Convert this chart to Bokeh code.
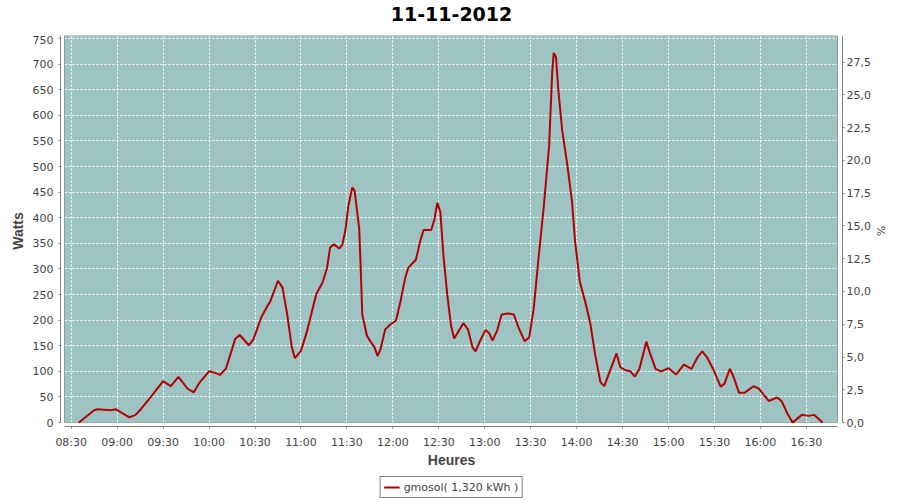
import pandas as pd
from bokeh.plotting import figure
from bokeh.layouts import column
from bokeh.models import (Range1d, LinearAxis, FixedTicker, BoxAnnotation,
                          Legend, LegendItem, Label)
from bokeh.embed import file_html
from bokeh.resources import INLINE

# ---------------- data ----------------
title_text = "11-11-2012"
x_label = "Heures"
y_label = "Watts"
y2_label = "%"
series_name = "gmosol( 1,320 kWh )"

times = [
    "08:35", "08:45", "08:47", "08:56", "08:59", "09:03", "09:08", "09:12", "09:16", "09:22",
    "09:30", "09:35", "09:40", "09:46", "09:50", "09:54", "10:00", "10:04", "10:07", "10:11",
    "10:14", "10:17", "10:20", "10:26", "10:29", "10:34", "10:38", "10:40", "10:45", "10:48",
    "10:51", "10:54", "10:56", "11:00", "11:04", "11:10", "11:14", "11:17", "11:19", "11:21:30",
    "11:25", "11:27", "11:29", "11:31", "11:33:30", "11:35", "11:38", "11:39", "11:40", "11:43",
    "11:45", "11:48", "11:50", "11:52", "11:55", "11:58:30", "12:02", "12:05", "12:08", "12:10",
    "12:15", "12:18", "12:20", "12:25", "12:27", "12:29", "12:31", "12:33", "12:35:30", "12:38",
    "12:40", "12:43", "12:46", "12:49", "12:52", "12:54", "12:57", "13:00:30", "13:03", "13:05",
    "13:08", "13:11", "13:15", "13:19", "13:22", "13:26", "13:29", "13:32", "13:35", "13:38:30",
    "13:42", "13:44", "13:45", "13:46:30", "13:48", "13:50:30", "13:54", "13:57", "13:59", "14:02",
    "14:06", "14:09", "14:12", "14:15:30", "14:18", "14:21", "14:26", "14:28:30", "14:32", "14:35",
    "14:38", "14:41", "14:45:30", "14:48", "14:51:30", "14:55", "15:00", "15:05", "15:10", "15:15",
    "15:19", "15:22", "15:25", "15:29:30", "15:34", "15:36:30", "15:40", "15:42:30", "15:46", "15:49:30",
    "15:55:30", "15:59", "16:05:30", "16:11", "16:14", "16:17:30", "16:21", "16:27", "16:31:30", "16:35",
    "16:40:30",
]
watts = [
    0, 24, 26, 24, 26, 19, 10, 15, 28, 50,
    81, 71, 89, 66, 59, 79, 100, 97, 93, 105,
    134, 163, 171, 151, 163, 205, 227, 237, 277, 263,
    211, 147, 126, 140, 179, 251, 273, 302, 342, 348,
    340, 347, 376, 424, 459, 453, 379, 302, 211, 170,
    160, 147, 130, 144, 182, 192, 199, 237, 282, 302,
    318, 356, 376, 376, 395, 429, 411, 327, 250, 189,
    164, 179, 194, 182, 147, 139, 160, 181, 174, 160,
    179, 211, 213, 211, 186, 159, 166, 224, 318, 421,
    540, 682, 722, 714, 650, 572, 501, 430, 353, 276,
    231, 192, 134, 79, 71, 95, 135, 108, 102, 100,
    90, 105, 158, 134, 105, 100, 106, 94, 113, 105,
    128, 139, 128, 102, 70, 76, 105, 89, 58, 58,
    71, 66, 42, 49, 41, 18, 0, 15, 13, 15,
    0,
]

x_tick_labels = ["08:30", "09:00", "09:30", "10:00", "10:30", "11:00", "11:30", "12:00",
                 "12:30", "13:00", "13:30", "14:00", "14:30", "15:00", "15:30", "16:00", "16:30"]
y_ticks = [0, 50, 100, 150, 200, 250, 300, 350, 400, 450, 500, 550, 600, 650, 700, 750]
y2_tick_labels = ["0,0", "2,5", "5,0", "7,5", "10,0", "12,5", "15,0", "17,5",
                  "20,0", "22,5", "25,0", "27,5"]

# data-area extents (minutes since midnight / watts / percent)
X_LO, X_HI = 505.6, 1010.3
Y_HI = 756.0
Y2_HI = 29.53


def to_min(s):
    parts = [int(v) for v in s.split(":")]
    return parts[0] * 60 + parts[1] + (parts[2] / 60.0 if len(parts) > 2 else 0.0)


df = pd.DataFrame({"t": [to_min(s) for s in times], "w": watts})
x_tick_pos = [to_min(s) for s in x_tick_labels]
y2_ticks = [float(s.replace(",", ".")) for s in y2_tick_labels]

# ---------------- geometry ----------------
W = 900
TITLE_H, MAIN_H, LEG_H = 35, 435, 30
BL, BR, BB = 60, 58, 40
frame_w = W - BL - BR
frame_h = MAIN_H - BB
gap_l, gap_r, gap_b = 4, 5, 4
box_w = frame_w - gap_l - gap_r
box_h = frame_h - gap_b
px_x = box_w / (X_HI - X_LO)
px_y = box_h / Y_HI
px_y2 = box_h / Y2_HI

TEAL = "#9dc3c2"
LINE = "#b40000"
GREY = "#808080"
TXT = "#444444"


def strip(h):
    f = figure(width=W, height=h, x_range=Range1d(0, 1), y_range=Range1d(0, 1),
               min_border_left=BL, min_border_right=BR, min_border_top=0,
               min_border_bottom=0, output_backend="svg", toolbar_location=None)
    f.axis.visible = False
    f.grid.visible = False
    f.outline_line_color = None
    f.background_fill_color = "white"
    f.border_fill_color = "white"
    return f


# ---- title strip ----
t = strip(TITLE_H)
t.add_layout(Label(x=0.5, y=1 - 13 / TITLE_H, text=title_text, text_align="center",
                   text_baseline="middle", text_font="DejaVu Sans",
                   text_font_size="19px", text_font_style="bold", text_color="black"))

# ---- main chart ----
p = figure(width=W, height=MAIN_H,
           x_range=Range1d(X_LO - gap_l / px_x, X_HI + gap_r / px_x),
           y_range=Range1d(-gap_b / px_y, Y_HI),
           min_border_left=BL, min_border_right=BR,
           min_border_top=0, min_border_bottom=BB,
           output_backend="svg", toolbar_location=None)
p.extra_y_ranges = {"pct": Range1d(-gap_b / px_y2, Y2_HI)}

p.background_fill_color = "white"
p.border_fill_color = "white"
p.outline_line_color = None

# plot area background and outline
p.add_layout(BoxAnnotation(left=X_LO, right=X_HI, bottom=0, top=Y_HI,
                           fill_color=TEAL, fill_alpha=1.0, line_color=None,
                           level="image"))
p.add_layout(BoxAnnotation(left=X_LO, right=X_HI, bottom=0, top=Y_HI,
                           fill_alpha=0.0, line_color="black", line_width=1,
                           level="overlay"))

# grids
p.xgrid.ticker = FixedTicker(ticks=x_tick_pos)
p.ygrid.ticker = FixedTicker(ticks=y_ticks)
for g in (p.xgrid[0], p.ygrid[0]):
    g.grid_line_color = "white"
    g.grid_line_dash = "2 2"
    g.grid_line_width = 1
p.xgrid.bounds = (X_LO, X_HI)
p.ygrid.bounds = (0, Y_HI)

# axes
xa = p.xaxis[0]
xa.ticker = FixedTicker(ticks=x_tick_pos)
xa.major_label_overrides = {pos: lbl for pos, lbl in zip(x_tick_pos, x_tick_labels)}
xa.bounds = (X_LO, X_HI)
xa.axis_label = x_label

ya = p.yaxis[0]
ya.ticker = FixedTicker(ticks=y_ticks)
ya.bounds = (0, Y_HI)
ya.axis_label = y_label

ya2 = LinearAxis(y_range_name="pct", ticker=FixedTicker(ticks=y2_ticks),
                 major_label_overrides={v: lbl for v, lbl in zip(y2_ticks, y2_tick_labels)},
                 bounds=(0, Y2_HI), axis_label=y2_label)
p.add_layout(ya2, "right")

for ax in (xa, ya, ya2):
    ax.axis_line_color = GREY
    ax.major_tick_line_color = GREY
    ax.minor_tick_line_color = None
    ax.major_tick_out = 2
    ax.major_tick_in = 0
    ax.major_label_text_font = "DejaVu Sans"
    ax.major_label_text_font_size = "11px"
    ax.major_label_text_color = TXT
    ax.axis_label_text_font = "Liberation Sans"
    ax.axis_label_text_font_size = "14px"
    ax.axis_label_text_font_style = "bold"
    ax.axis_label_text_color = TXT

xa.major_label_standoff = 7
xa.axis_label_standoff = 0
ya.major_label_standoff = 5
ya.axis_label_standoff = 4
ya2.major_label_standoff = 2
ya2.axis_label_standoff = 0
ya2.axis_label_text_font = "DejaVu Sans"
ya2.axis_label_text_font_size = "11px"
ya2.axis_label_text_font_style = "normal"

# series
r = p.line(df["t"], df["w"], line_color=LINE, line_width=2)

# ---- legend strip ----
q = strip(LEG_H)
q.x_range = Range1d(X_LO, X_HI)
q.y_range = Range1d(-2 * Y_HI, -Y_HI)   # series kept out of view; only its legend shows
r_leg = q.line(df["t"], df["w"], line_color=LINE, line_width=2)
legend = Legend(items=[LegendItem(label=series_name, renderers=[r_leg])],
                location="bottom_center", orientation="horizontal",
                border_line_color="black", border_line_width=1,
                background_fill_color="white", background_fill_alpha=1.0,
                label_text_font="DejaVu Sans", label_text_font_size="11px",
                label_text_color=TXT, padding=3, margin=2, spacing=0,
                glyph_width=16, glyph_height=14, label_height=14,
                label_standoff=4)
q.add_layout(legend)

layout = column(t, p, q, spacing=0)
open("out.html", "w").write(file_html(layout, INLINE))
